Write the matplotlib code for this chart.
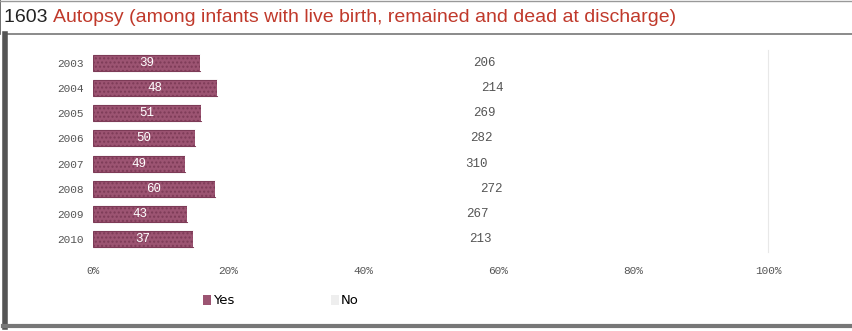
import matplotlib.pyplot as plt
import matplotlib.patches as patches
from matplotlib.lines import Line2D

years = ["2003", "2004", "2005", "2006", "2007", "2008", "2009", "2010"]
yes_counts = [39, 48, 51, 50, 49, 60, 43, 37]
no_counts = [206, 214, 269, 282, 310, 272, 267, 213]
x_ticks = [0, 20, 40, 60, 80, 100]

yes_color = "#9c5472"
mono = "Liberation Mono"
plt.rcParams["hatch.color"] = "#b07890"

fig = plt.figure(figsize=(8.53, 3.31), dpi=100)
ax = fig.add_axes([93 / 853, 1 - 252 / 331, 675 / 853, 202 / 331])

totals = [a + b for a, b in zip(yes_counts, no_counts)]
yes_pct = [100 * a / t for a, t in zip(yes_counts, totals)]
no_pct = [100 * b / t for b, t in zip(no_counts, totals)]
ypos = list(range(len(years)))

ax.barh(ypos, yes_pct, height=0.63, color=yes_color, edgecolor="#7d3b57",
        linewidth=0.8, hatch="....", label="Yes")
ax.barh(ypos, no_pct, left=yes_pct, height=0.63, color="white",
        edgecolor="none", label="No")

for y, yp, np_, yc, nc in zip(ypos, yes_pct, no_pct, yes_counts, no_counts):
    ax.text(yp / 2, y, str(yc), ha="center", va="center", color="white",
            fontsize=9, family=mono)
    ax.text(yp + np_ / 2, y, str(nc), ha="center", va="center",
            color="#555555", fontsize=9, family=mono)

ax.set_xlim(0, 100)
ax.set_ylim(len(years) - 0.5, -0.5)
ax.set_yticks(ypos)
ax.set_yticklabels(years, family=mono, fontsize=8, color="#555555")
ax.set_xticks(x_ticks)
ax.set_xticklabels([f"{t}%" for t in x_ticks], family=mono, fontsize=8,
                   color="#555555")
ax.tick_params(length=0, axis="y", pad=7)
ax.tick_params(length=0, axis="x", pad=10)
for s in ["top", "left", "bottom"]:
    ax.spines[s].set_visible(False)
ax.spines["right"].set_color("#e8e8e8")

handles = [
    patches.Patch(facecolor=yes_color, edgecolor="none"),
    patches.Patch(facecolor="#eeeeee", edgecolor="none"),
]
fig.legend(handles, ["Yes", "No"], loc="center",
           bbox_to_anchor=(281 / 853, 1 - 301 / 331),
           ncol=2, frameon=False, handlelength=0.6,
           handleheight=0.8, handletextpad=0.15, columnspacing=7.3,
           prop={"family": "Liberation Sans Narrow", "size": 9.5})

# frame and title box
fig.add_artist(Line2D([6 / 853, 1], [1 - 34 / 331] * 2, color="#777777", lw=1.2))
fig.add_artist(Line2D([5 / 853] * 2, [4 / 331, 1 - 34 / 331], color="#555555", lw=4))
fig.add_artist(Line2D([0.5 / 853] * 2, [1 - 34 / 331, 1], color="#555555", lw=1.2))
fig.add_artist(Line2D([3 / 853, 1], [5 / 331] * 2, color="#777777", lw=3))
fig.add_artist(Line2D([0, 1], [1 - 1 / 331] * 2, color="#999999", lw=1))

t1 = fig.text(4 / 853, 1 - 17 / 331, "1603 ", ha="left", va="center",
              fontsize=14, color="#222222", family="Liberation Sans")
fig.canvas.draw()
bb = t1.get_window_extent()
fig.text(bb.x1 / fig.bbox.width, 1 - 17 / 331,
         "Autopsy (among infants with live birth, remained and dead at discharge)",
         ha="left", va="center", fontsize=14, color="#c0392b",
         family="Liberation Sans")

fig.savefig("out.png", dpi=100)
